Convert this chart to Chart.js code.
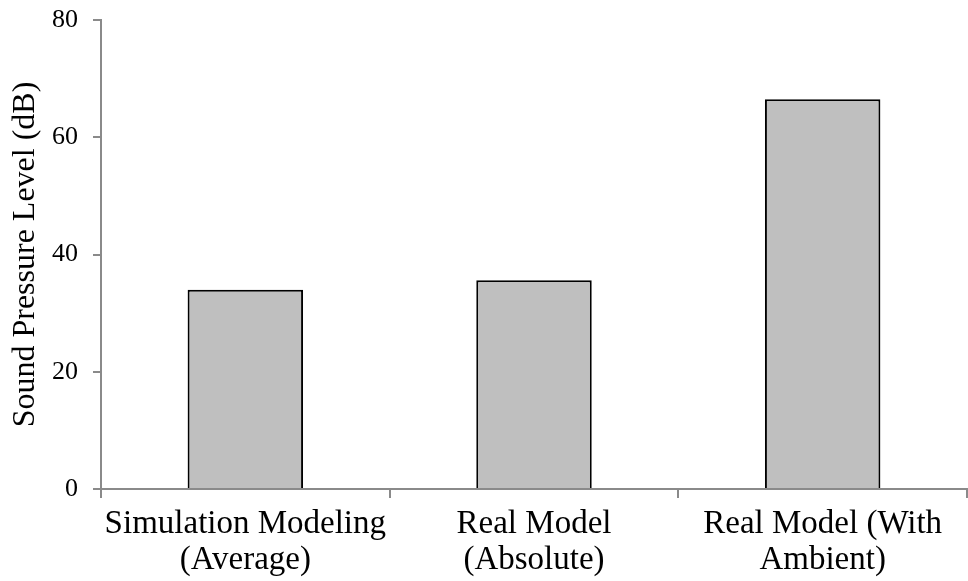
<!DOCTYPE html>
<html>
<head>
<meta charset="utf-8">
<script src="https://cdn.jsdelivr.net/npm/chart.js@4"></script>
<style>
  html, body { margin: 0; padding: 0; background: #fff; }
  #wrap { width: 968px; height: 581px; }
</style>
</head>
<body>
<div id="wrap"><canvas id="cSpl"></canvas></div>
<script>
// data
const categories = [
  ['Simulation Modeling', '(Average)'],
  ['Real Model', '(Absolute)'],
  ['Real Model (With', 'Ambient)']
];
const splValues = [34.0, 35.6, 66.5];
const yTicks = [0, 20, 40, 60, 80];

const FONT = "'Liberation Serif', 'Times New Roman', serif";
const AXIS = '#8a8a8a';

const ctx = document.getElementById('cSpl').getContext('2d');
new Chart(ctx, {
  type: 'bar',
  data: {
    labels: categories,
    datasets: [{
      label: 'Sound Pressure Level',
      data: splValues,
      backgroundColor: '#bfbfbf',
      borderColor: '#000',
      borderWidth: 2,
      barPercentage: 0.4,
      categoryPercentage: 1
    }]
  },
  options: {
    responsive: true, maintainAspectRatio: false,
    animation: false,
    layout: { padding: { top: 20, right: 1, left: 0, bottom: 0 } },
    plugins: { legend: { display: false }, tooltip: { enabled: false } },
    scales: {
      x: {
        grid: { display: true, drawOnChartArea: false, drawTicks: true, tickLength: 9, color: AXIS, lineWidth: 2, offset: true },
        border: { color: AXIS, width: 2 },
        ticks: { color: '#000', font: { family: FONT, size: 33, lineHeight: 1.08 }, padding: 9, maxRotation: 0, autoSkip: false },
        afterFit: s => { s.height = 92; s.paddingLeft = 0; s.paddingRight = 0; }
      },
      y: {
        min: 0, max: 80,
        afterBuildTicks: s => { s.ticks = yTicks.map(v => ({ value: v })); },
        grid: { display: true, drawOnChartArea: false, drawTicks: true, tickLength: 8, color: AXIS, lineWidth: 2 },
        border: { color: AXIS, width: 2 },
        ticks: { color: '#000', font: { family: FONT, size: 26 }, padding: 15 },
        title: { display: true, text: 'Sound Pressure Level (dB)', color: '#000', font: { family: FONT, size: 32, lineHeight: 1.2 }, padding: { top: 6, bottom: 0 } },
        afterFit: s => { s.width = 101; s.paddingTop = 0; s.paddingBottom = 0; }
      }
    }
  }
});
</script>
</body>
</html>
